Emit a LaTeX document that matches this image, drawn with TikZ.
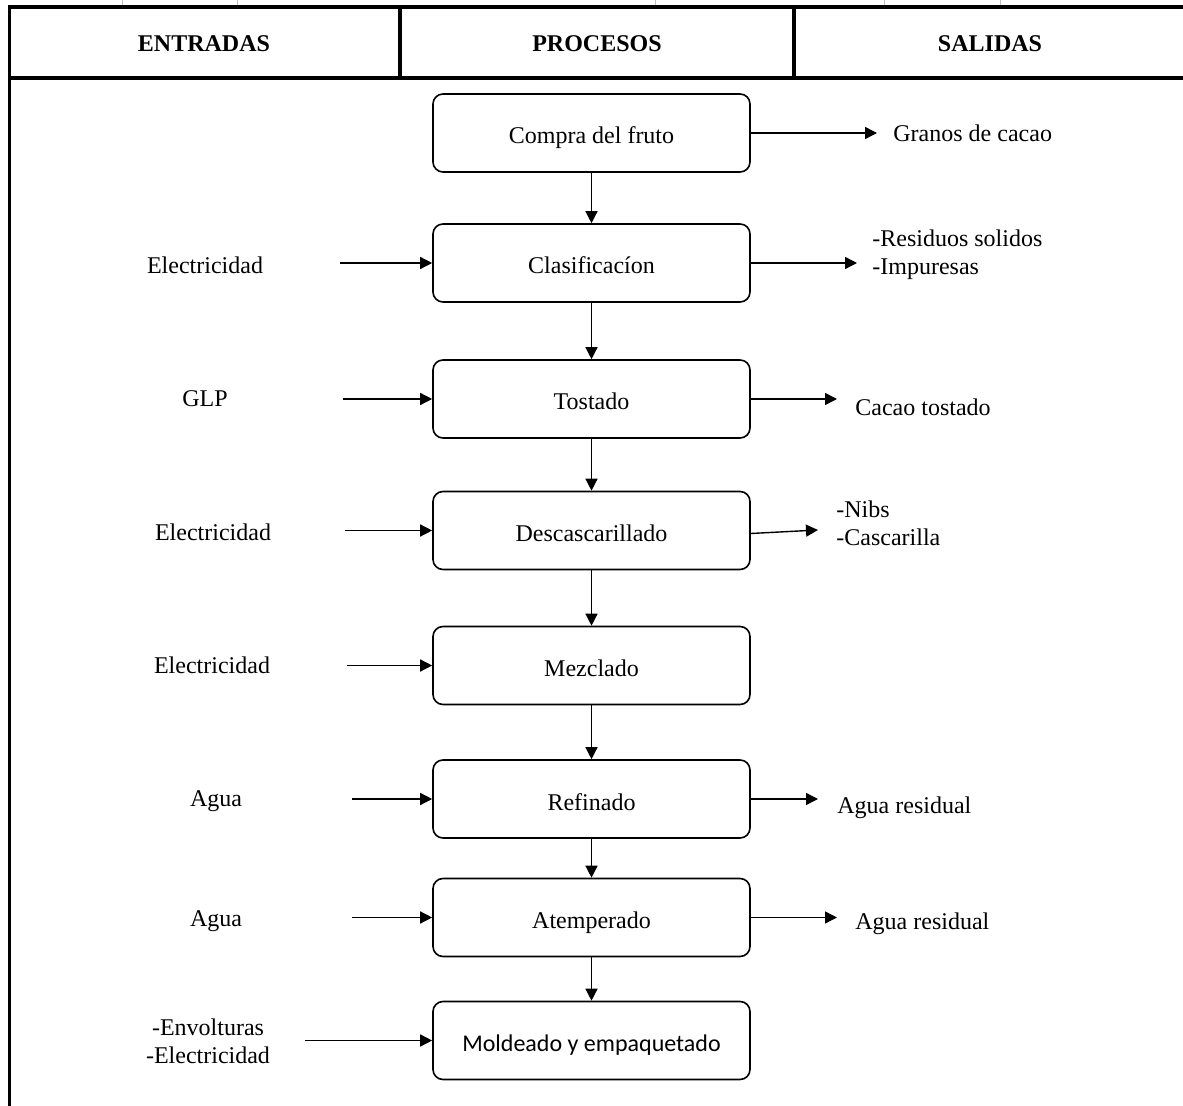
\documentclass[tikz,border=0pt]{standalone}
\usepackage{fontspec}
\setmainfont{Liberation Serif}
\newfontfamily\calibrifont{Carlito}
\usetikzlibrary{arrows.meta,positioning}

\begin{document}
\begin{tikzpicture}[
    x=0.5pt, y=-0.5pt,
    proc/.style={rectangle, draw=black, line width=0.8pt, minimum width=158.5pt, minimum height=39pt, text centered, text height=11pt, text depth=0pt, font=\fontsize{12}{14}\selectfont, rounded corners=5pt},
    lbl/.style={font=\fontsize{12}{14}\selectfont, inner sep=0pt},
    head/.style={font=\bfseries\fontsize{12}{14}\selectfont},
    arr/.style={-{Triangle[length=6pt,width=6pt]}, line width=0.7pt},
    rule/.style={line width=1.8pt}
]
    \fill[white] (0,0) rectangle (1183,1106);
    \useasboundingbox (0,0) rectangle (1183,1106);

    % table head
    \foreach \t in {122,237,655,884,1000}
        \draw[gray!50, line width=0.4pt] (\t,0) -- (\t,6);
    \draw[rule] (8,7) -- (1183,7);
    \draw[rule] (8,78) -- (1183,78);
    \draw[rule] (400,7) -- (400,78);
    \draw[rule] (794,7) -- (794,78);
    \draw[line width=1.5pt] (9,6) -- (9,1106);
    \node[head] (hin) at (204,44) {ENTRADAS};
    \node[head] (hpro) at (597,44) {PROCESOS};
    \node[head] (hout) at (990,44) {SALIDAS};

    % processes
    \node[proc] (compra) at (591.5,133) {Compra del fruto};
    \node[proc] (clasif) at (591.5,263) {Clasificacíon};
    \node[proc] (tostado) at (591.5,399) {Tostado};
    \node[proc] (descas) at (591.5,530.5) {Descascarillado};
    \node[proc] (mezcla) at (591.5,665.5) {Mezclado};
    \node[proc] (refina) at (591.5,799) {Refinado};
    \node[proc] (atemp) at (591.5,917.5) {Atemperado};
    \node[proc] (molde) at (591.5,1040.5) {\calibrifont Moldeado y empaquetado};

    \draw[arr] (compra) -- (clasif);
    \draw[arr] (clasif) -- (tostado);
    \draw[arr] (tostado) -- (descas);
    \draw[arr] (descas) -- (mezcla);
    \draw[arr] (mezcla) -- (refina);
    \draw[arr] (refina) -- (atemp);
    \draw[arr] (atemp) -- (molde);

    % inputs
    \node[lbl] (in2) at (205,265) {Electricidad};
    \node[lbl] (in3) at (205,399) {GLP};
    \node[lbl] (in4) at (213,532) {Electricidad};
    \node[lbl] (in5) at (212,665) {Electricidad};
    \node[lbl] (in6) at (216,801) {Agua};
    \node[lbl] (in7) at (216,921) {Agua};
    \node[lbl, align=center] (in8) at (208,1041) {-Envolturas\\-Electricidad};
    \coordinate (e2) at (340,263);
    \coordinate (e3) at (343,399);
    \coordinate (e4) at (345,530.5);
    \coordinate (e5) at (347,665.5);
    \coordinate (e6) at (352,799);
    \coordinate (e7) at (352,917.5);
    \coordinate (e8) at (305,1040.5);
    \draw[arr] (e2) -- (clasif);
    \draw[arr] (e3) -- (tostado);
    \draw[arr] (e4) -- (descas);
    \draw[arr] (e5) -- (mezcla);
    \draw[arr] (e6) -- (refina);
    \draw[arr] (e7) -- (atemp);
    \draw[arr] (e8) -- (molde);

    % outputs
    \coordinate (s1) at (877,133);
    \coordinate (s2) at (857,263);
    \coordinate (s3) at (837,399);
    \coordinate (s4) at (818,530);
    \coordinate (s6) at (818,799);
    \coordinate (s7) at (837,917.5);
    \draw[arr] (compra) -- (s1);
    \draw[arr] (clasif) -- (s2);
    \draw[arr] (tostado) -- (s3);
    \draw[arr] ([yshift=-1.5pt]descas.east) -- (s4);
    \draw[arr] (refina) -- (s6);
    \draw[arr] (atemp) -- (s7);
    \node[lbl, anchor=west] (out1) at (893,133) {Granos de cacao};
    \node[lbl, anchor=west, align=left] (out2) at (872,255) {-Residuos solidos\\-Impuresas};
    \node[lbl, anchor=west] (out3) at (855,407) {Cacao tostado};
    \node[lbl, anchor=west, align=left] (out4) at (836,523) {-Nibs\\-Cascarilla};
    \node[lbl, anchor=west] (out6) at (837,808) {Agua residual};
    \node[lbl, anchor=west] (out7) at (855,924) {Agua residual};
\end{tikzpicture}
\end{document}
